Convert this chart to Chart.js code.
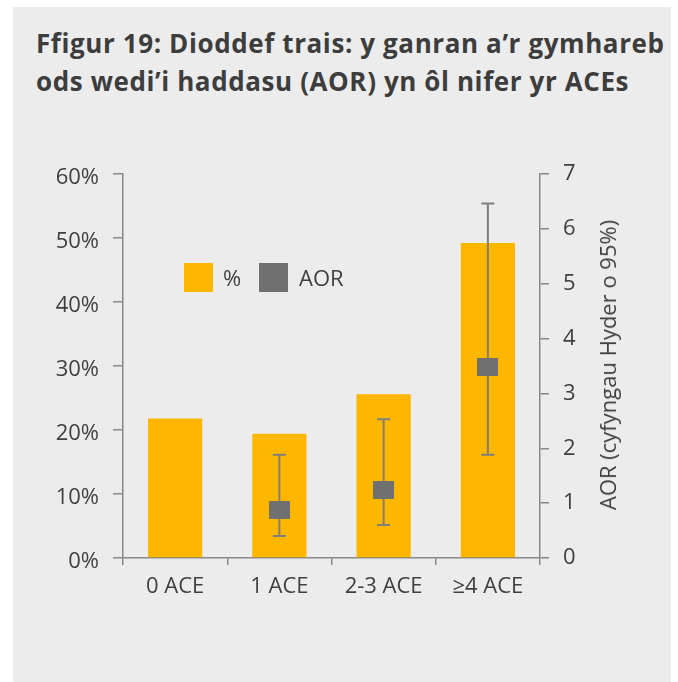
<!DOCTYPE html>
<html>
<head>
<meta charset="utf-8">
<script src="https://cdn.jsdelivr.net/npm/chart.js@4"></script>
<style>
  body { margin: 0; background: #fff; }
  #panel { position: absolute; left: 13px; top: 7px; width: 658px; height: 675px; background: #ececec; }
  #title { position: absolute; left: 36px; top: 24px; font-family: "Open Sans", sans-serif; font-weight: 700;
           font-size: 26px; line-height: 38px; color: #3d3d3d; letter-spacing: 0.6px; white-space: nowrap; }
  #wrap { position: absolute; left: 0; top: 0; width: 678px; height: 682px; }
  #rtitle { position: absolute; left: 607px; top: 365px; transform: translate(-50%, -50%) rotate(-90deg);
            font-family: "Open Sans", sans-serif; font-size: 22px; color: #404040; white-space: nowrap; }
  .leg { position: absolute; top: 263px; width: 29px; height: 29px; }
  .legt { position: absolute; top: 262px; font-family: "Open Sans", sans-serif; font-size: 22px; color: #404040; line-height: 30px; }
</style>
</head>
<body>
<div id="panel"></div>
<div id="title">Ffigur 19: Dioddef trais: y ganran a’r gymhareb<br>ods wedi’i haddasu (AOR) yn ôl nifer yr ACEs</div>
<div id="wrap"><canvas id="c" width="678" height="682"></canvas></div>
<div id="rtitle">AOR (cyfyngau Hyder o 95%)</div>
<div class="leg" style="left:184px; background:#fdb700;"></div>
<div class="legt" style="left:223px;">%</div>
<div class="leg" style="left:259px; background:#707070;"></div>
<div class="legt" style="left:299px;">AOR</div>
<script>
const categories = ["0 ACE", "1 ACE", "2-3 ACE", "≥4 ACE"];
const percent = [21.8, 19.4, 25.6, 49.2];
const aor = [null, 0.87, 1.24, 3.49];
const aorLow = [null, 0.40, 0.60, 1.88];
const aorHigh = [null, 1.88, 2.53, 6.46];

// square marker for AOR (slightly wider than tall)
const marker = document.createElement("canvas");
marker.width = 21; marker.height = 18;
const mctx = marker.getContext("2d");
mctx.fillStyle = "#707070";
mctx.fillRect(0, 0, 21, 18);

const errorBars = {
    id: "errorBars",
    beforeDatasetDraw(chart, args) {
        if (args.index !== 1) return;
        const ctx = chart.ctx;
        const x = chart.scales.x, y = chart.scales.y2;
        ctx.save();
        ctx.strokeStyle = "#7f7f7f";
        ctx.lineWidth = 2;
        aor.forEach((v, i) => {
            if (v == null) return;
            const px = x.getPixelForValue(i);
            const top = y.getPixelForValue(aorHigh[i]);
            const bot = y.getPixelForValue(aorLow[i]);
            ctx.beginPath();
            ctx.moveTo(px, top); ctx.lineTo(px, bot);
            ctx.moveTo(px - 6.5, top); ctx.lineTo(px + 6.5, top);
            ctx.moveTo(px - 6.5, bot); ctx.lineTo(px + 6.5, bot);
            ctx.stroke();
        });
        ctx.restore();
    }
};

const tickFont = { family: "'Open Sans', sans-serif", size: 22 };
const axisColor = "#888888";

new Chart(document.getElementById("c"), {
    type: "bar",
    data: {
        labels: categories,
        datasets: [{
            label: "%",
            data: percent,
            backgroundColor: "#fdb700",
            categoryPercentage: 1,
            barPercentage: 0.52,
            yAxisID: "y",
            order: 2
        }, {
            type: "line",
            label: "AOR",
            data: aor,
            showLine: false,
            pointStyle: marker,
            yAxisID: "y2",
            order: 1
        }]
    },
    options: {
        responsive: false,
        animation: false,
        layout: { padding: { top: 174, left: 0, right: 0, bottom: 0 } },
        plugins: { legend: { display: false }, tooltip: { enabled: false } },
        scales: {
            x: {
                offset: true,
                afterFit: s => { s.height = 124; },
                grid: { offset: true, drawOnChartArea: false, tickLength: 7, color: axisColor, lineWidth: 1.5 },
                border: { color: axisColor, width: 1.5 },
                ticks: { font: tickFont, color: "#404040", padding: 9 }
            },
            y: {
                position: "left",
                min: 0, max: 60,
                afterFit: s => { s.width = 123; },
                grid: { drawOnChartArea: false, tickLength: 10, color: axisColor, lineWidth: 1.5 },
                border: { color: axisColor, width: 1.5 },
                ticks: { stepSize: 10, font: tickFont, color: "#404040", padding: 14, labelOffset: 4, callback: v => v + "%" }
            },
            y2: {
                position: "right",
                min: 0, max: 7,
                afterFit: s => { s.width = 138; },
                grid: { drawOnChartArea: false, tickLength: 9, color: axisColor, lineWidth: 1.5 },
                border: { color: axisColor, width: 1.5 },
                ticks: { stepSize: 1, font: tickFont, color: "#404040", padding: 14 }
            }
        }
    },
    plugins: [errorBars]
});
</script>
</body>
</html>
